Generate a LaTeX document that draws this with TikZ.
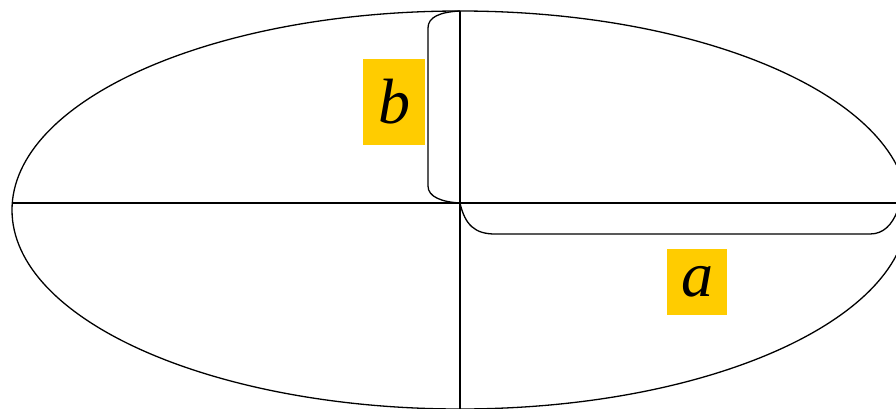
\documentclass[tikz,border=0pt]{standalone}
\usepackage{fontspec}
\setmainfont{Liberation Serif}
\usepackage{xcolor}
\definecolor{axisgold}{HTML}{FFCC00}
\usetikzlibrary{calc}

\begin{document}
\begin{tikzpicture}[x=1pt, y=-1pt, line width=1.3pt,
    lenlabel/.style={fill=axisgold, inner sep=0pt, font=\fontsize{64}{64}\selectfont\itshape}]
    \useasboundingbox (0,0) rectangle (896,409);
    \clip (0,0) rectangle (896,409);
    % the ellipse and its axes
    \draw (460,210) ellipse [x radius=448, y radius=199];
    \coordinate (O) at (460,203);
    \coordinate (T) at (460,11);
    \coordinate (L) at (12,203);
    \coordinate (R) at (896,203);
    \coordinate (B) at (460,409);
    \draw (L) -- (R);
    \draw (T) -- (B);
    % semi-minor axis bracket
    \draw (T) .. controls (440,12) and (428,17) .. (428,28) -- (428,186)
        .. controls (428,197) and (442,202) .. (O);
    \node[lenlabel, minimum width=62pt, minimum height=86pt] (b) at (394,102) {b};
    % semi-major axis bracket
    \draw (O) .. controls (465,225) and (475,234) .. (495,234) -- (870,234)
        .. controls (884,234) and (892,224) .. (897,212);
    \node[lenlabel, minimum width=60pt, minimum height=66pt] (a) at (697,282) {a};
\end{tikzpicture}
\end{document}
